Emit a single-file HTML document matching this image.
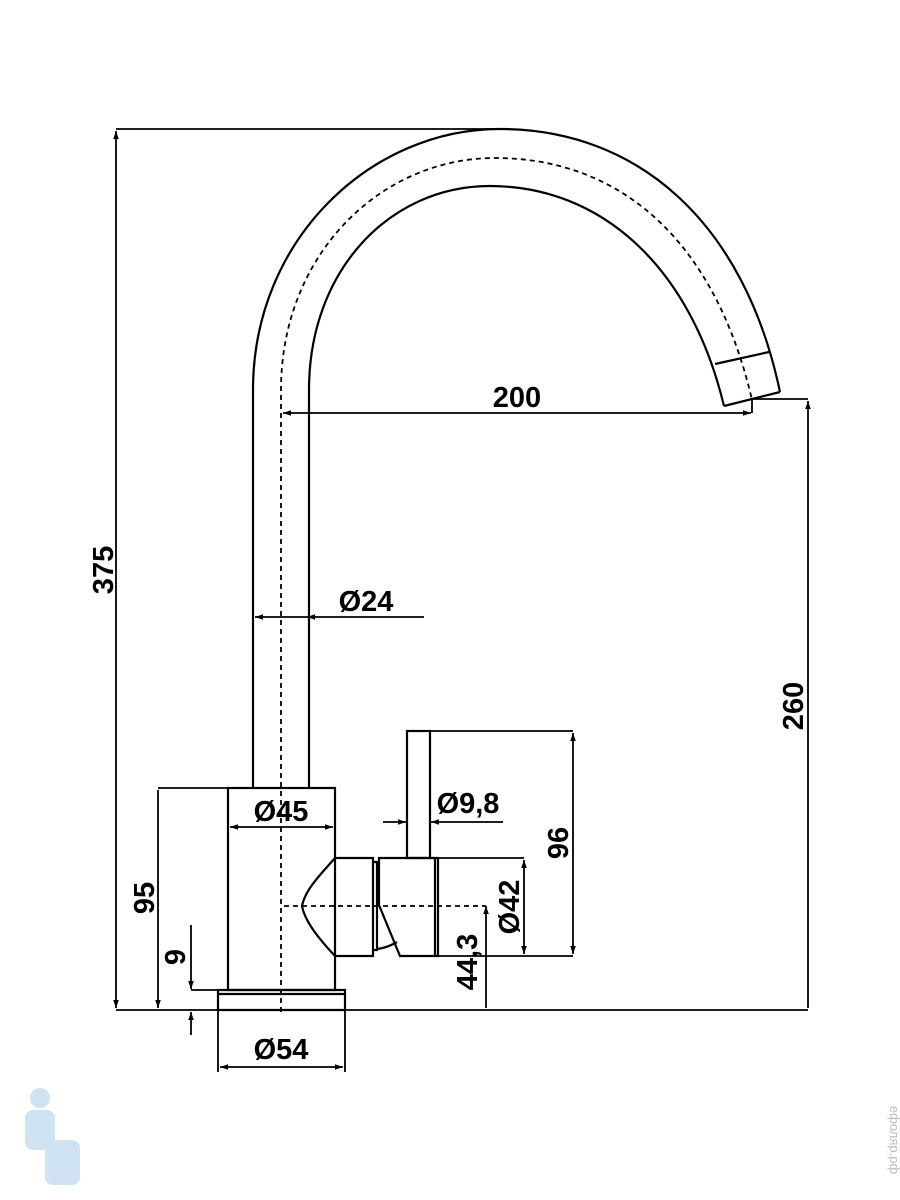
<!DOCTYPE html>
<html><head><style>body{margin:0;background:#fff}svg{display:block}</style></head><body>
<svg width="900" height="1200" viewBox="0 0 900 1200" xmlns="http://www.w3.org/2000/svg">
<defs>
<marker id="a" viewBox="0 0 10 10" refX="10" refY="5" markerWidth="16" markerHeight="8" markerUnits="userSpaceOnUse" orient="auto-start-reverse"><path d="M0,1.5 L10,5 L0,8.5z" fill="#000"/></marker>
</defs>
<g fill="none" stroke="#000" stroke-width="2.2">
<path d="M253,788 L253,390 C253,240 370,129 500,129 C640,129 745,225 780,392"/>
<path d="M309,788 L309,390 C309,270 390,186 490,186 C600,186 690,265 724,406"/>
<path d="M724,406 L780,392 M715,364 L769,352"/>
<rect x="228" y="788" width="107" height="202"/>
<path d="M218,990 H345 V1010 H218 Z M218,994 H345"/>
<path d="M335,858 H373 V956 H335 M335,858 C320,875 305,890 302,906 C305,922 320,940 335,956"/>
<path d="M373,862 H377 V950 H373"/>
<path d="M379,858 H438 V956 H400 L379,905 Z M435,858 V956"/>
<path d="M377,949 C385,948 392,945 397,942"/>
<rect x="407" y="731" width="23" height="127"/>
</g>
<g fill="none" stroke="#000" stroke-width="1.8" stroke-dasharray="5,4">
<path d="M281,1012 L281,390 C281,255 380,158 495,158 C620,158 715,240 752,400"/>
<path d="M284,906 H486"/>
</g>
<g fill="none" stroke="#000" stroke-width="1.8">
<path d="M116,129 H500 M116,1010 H808"/>
<path d="M116,131 V1008" marker-start="url(#a)" marker-end="url(#a)"/>
<path d="M752,399 H808"/>
<path d="M808,401 V1008" marker-start="url(#a)"/>
<path d="M283,413 H751" marker-start="url(#a)" marker-end="url(#a)"/>
<path d="M752,400 V413"/>
<path d="M255,617 H424" marker-start="url(#a)"/>
<path d="M307,617 H310" marker-start="url(#a)"/>
<path d="M158,788 H228"/>
<path d="M158,790 V1008" marker-end="url(#a)"/>
<path d="M191,990 H217"/>
<path d="M191,925 V989" marker-end="url(#a)"/>
<path d="M191,1035 V1012" marker-end="url(#a)"/>
<path d="M218,1010 V1072 M345,1010 V1072"/>
<path d="M220,1067 H343" marker-start="url(#a)" marker-end="url(#a)"/>
<path d="M230,827 H333" marker-start="url(#a)" marker-end="url(#a)"/>
<path d="M383,822 H406" marker-end="url(#a)"/>
<path d="M503,822 H431" marker-end="url(#a)"/>
<path d="M430,731 H573 M438,956 H573 M438,858 H524"/>
<path d="M573,733 V954" marker-start="url(#a)" marker-end="url(#a)"/>
<path d="M524,860 V954" marker-start="url(#a)" marker-end="url(#a)"/>
<path d="M486,906 V1008" marker-start="url(#a)"/>
</g>
<g font-family="Liberation Sans, sans-serif" font-size="29" fill="#000" font-weight="bold">
<text x="517" y="407" text-anchor="middle">200</text>
<text x="366" y="611" text-anchor="middle">Ø24</text>
<text x="281" y="821" text-anchor="middle">Ø45</text>
<text x="468" y="813" text-anchor="middle">Ø9,8</text>
<text x="281" y="1059" text-anchor="middle">Ø54</text>
<text transform="translate(113,570) rotate(-90)" text-anchor="middle">375</text>
<text transform="translate(803,706) rotate(-90)" text-anchor="middle">260</text>
<text transform="translate(568,843) rotate(-90)" text-anchor="middle">96</text>
<text transform="translate(519,907) rotate(-90)" text-anchor="middle">Ø42</text>
<text transform="translate(477,962) rotate(-90)" text-anchor="middle">44,3</text>
<text transform="translate(154,898) rotate(-90)" text-anchor="middle">95</text>
<text transform="translate(185,957) rotate(-90)" text-anchor="middle">9</text>
</g>
<text transform="translate(890,1140) rotate(90)" font-family="Liberation Sans, sans-serif" font-size="13" fill="#bbb" text-anchor="middle">ефоляр.рф</text>
<g fill="#cfe3f3"><circle cx="40" cy="1098" r="10"/><rect x="25" y="1110" width="30" height="40" rx="8"/><rect x="45" y="1140" width="35" height="45" rx="8"/></g>
</svg>
</body></html>
